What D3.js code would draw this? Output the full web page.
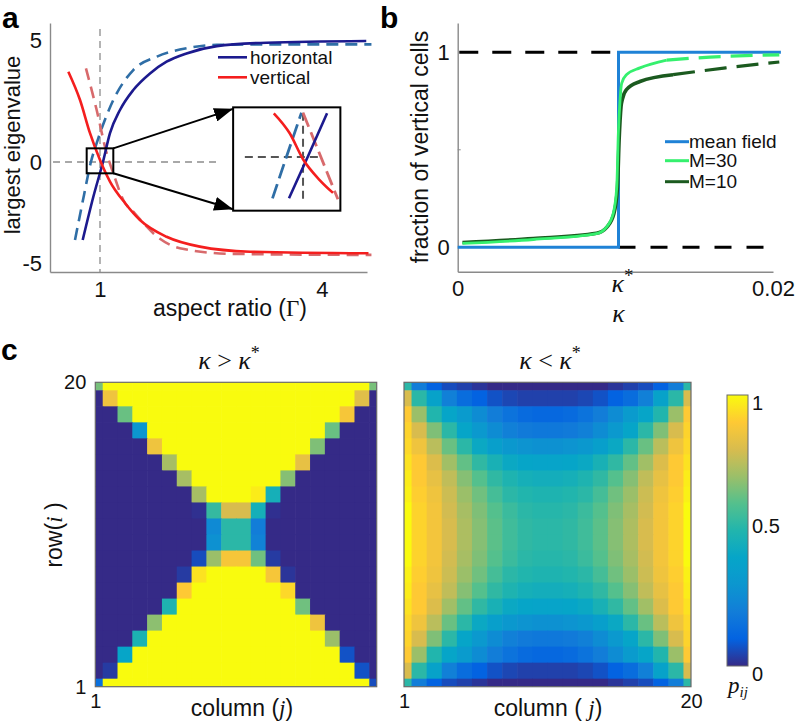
<!DOCTYPE html>
<html><head><meta charset="utf-8">
<script src="https://cdn.jsdelivr.net/npm/d3@7"></script>
<style>body{margin:0;background:#fff}svg{display:block}</style>
</head><body>
<svg id="c" width="800" height="725"></svg>
<script>
// ---------------- DATA ----------------
// Panel a: aspect ratio (Gamma) vs largest eigenvalue
const horizSolidG = [0.766,0.91,1.04,1.135,1.27,1.45,1.676,1.90,2.17,2.58,3.25,4.60];
const horizSolidL = [-3.86,-1.72,0,1.18,2.13,2.95,3.63,4.11,4.45,4.75,4.89,4.96];
const horizDashG  = [0.662,0.784,0.877,0.955,1.18,1.45,1.77,2.17,2.58,3.25,4.67];
const horizDashL  = [-3.86,-1.63,0,0.77,2.54,3.77,4.32,4.66,4.80,4.82,4.82];
const vertSolidG  = [0.572,0.73,0.865,1.0,1.135,1.34,1.54,1.90,2.35,3.03,4.63];
const vertSolidL  = [3.70,2.54,1.18,0.08,-0.97,-2.04,-2.87,-3.70,-4.19,-4.44,-4.52];
const vertDashG   = [0.81,0.955,1.09,1.18,1.315,1.47,1.81,2.08,2.80,4.67];
const vertDashL   = [3.84,2.13,0.36,-0.56,-1.88,-2.54,-3.8,-4.27,-4.55,-4.60];
// inset (zoom around Gamma = 1)
const inHorizDashG  = [0.789,0.885,0.989];        const inHorizDashL  = [-1.67,0,1.79];
const inHorizSolidG = [0.903,1.032,1.166];        const inHorizSolidL = [-1.67,0,1.77];
const inVertSolidG  = [0.798,0.908,1.0,1.115,1.207]; const inVertSolidL = [1.77,0.96,-0.09,-0.93,-1.45];
const inVertDashG   = [1.0,1.12,1.241];           const inVertDashL   = [1.79,0.05,-1.71];
const aXTicks = [1,4];
const aYTicks = [-5,0,5];
const aLegend = ["horizontal","vertical"];

// Panel b: kappa vs fraction of vertical cells
const kappaStar = 0.0102;
const mfK = [0, 0.0102, 0.0102, 0.0205];
const mfF = [0, 0, 1, 1];
const m30K = [0.0003,0.0048,0.0088,0.00945,0.00987,0.01009,0.01019,0.0103,0.0104,0.01072,0.01156,0.01326];
const m30F = [0.02,0.04,0.07,0.105,0.175,0.31,0.585,0.757,0.84,0.886,0.92,0.96];
const m30DashK = [0.01326,0.0160,0.0204];
const m30DashF = [0.96,0.975,0.987];
const m10K = [0.0003,0.0048,0.0088,0.00948,0.0099,0.01013,0.01024,0.01036,0.01045,0.01072,0.01156,0.01366];
const m10F = [0.025,0.045,0.072,0.105,0.17,0.3,0.55,0.72,0.76,0.81,0.85,0.885];
const m10DashK = [0.01366,0.0170,0.0204];
const m10DashF = [0.885,0.92,0.95];
const refOneK = [0.0001, 0.0102];
const refZeroK = [0.0102, 0.0196];
const bLegend = ["mean field","M=30","M=10"];

// Panel c: p_ij, rows listed from row 20 (top) to row 1 (bottom), columns 1..20
const leftRows = [
 [0.65,1,1,1,1,1,1,1,1,1,1,1,1,1,1,1,1,1,1,0.65],
 [0,0.86,1,1,1,1,1,1,1,1,1,1,1,1,1,1,1,1,0.82,0],
 [0,0,0.63,1,1,1,1,1,1,1,1,1,1,1,1,1,1,0.88,0,0],
 [0,0,0,0.3,1,1,1,1,1,1,1,1,1,1,1,1,0.63,0,0,0],
 [0,0,0,0,0.86,1,1,1,1,1,1,1,1,1,1,0.66,0,0,0,0],
 [0,0,0,0,0,0.72,1,1,1,1,1,1,1,1,0.84,0,0,0,0,0],
 [0,0,0,0,0,0,0.72,1,1,1,1,1,1,0.67,0,0,0,0,0,0],
 [0,0,0,0,0,0,0,0.72,1,1,1,0.97,0.46,0,0,0,0,0,0,0],
 [0,0,0,0,0,0,0,0.01,0.54,0.8,0.8,0.46,0.01,0,0,0,0,0,0,0],
 [0,0,0,0,0,0,0,0,0.25,0.52,0.52,0.2,0,0,0,0,0,0,0,0],
 [0,0,0,0,0,0,0,0,0.28,0.52,0.52,0.22,0,0,0,0,0,0,0,0],
 [0,0,0,0,0,0,0,0.06,0.7,0.88,0.88,0.64,0.03,0,0,0,0,0,0,0],
 [0,0,0,0,0,0,0.03,0.95,1,1,1,1,0.88,0.02,0,0,0,0,0,0],
 [0,0,0,0,0,0,0.9,1,1,1,1,1,1,0.93,0,0,0,0,0,0],
 [0,0,0,0,0,0.49,1,1,1,1,1,1,1,1,0.64,0,0,0,0,0],
 [0,0,0,0,0.68,1,1,1,1,1,1,1,1,1,1,0.86,0,0,0,0],
 [0,0,0,0.48,1,1,1,1,1,1,1,1,1,1,1,1,0.7,0,0,0],
 [0,0,0.4,1,1,1,1,1,1,1,1,1,1,1,1,1,1,0.07,0,0],
 [0,0.03,1,1,1,1,1,1,1,1,1,1,1,1,1,1,1,1,0.07,0],
 [0.15,1,1,1,1,1,1,1,1,1,1,1,1,1,1,1,1,1,1,0.06]
];
const rightRows = [
 [0.52,0.2,0.1,0.06,0.04,0.02,0,0,0,0,0,0,0,0,0.02,0.04,0.06,0.1,0.2,0.52],
 [0.8,0.52,0.38,0.21,0.14,0.1,0.07,0.05,0.04,0.04,0.04,0.04,0.05,0.07,0.1,0.14,0.21,0.38,0.52,0.8],
 [0.9,0.7,0.5,0.4,0.33,0.26,0.2,0.16,0.13,0.12,0.12,0.13,0.16,0.2,0.26,0.33,0.4,0.5,0.7,0.9],
 [0.92,0.8,0.66,0.52,0.4,0.32,0.26,0.21,0.19,0.18,0.18,0.19,0.21,0.26,0.32,0.4,0.52,0.66,0.8,0.92],
 [0.93,0.86,0.75,0.63,0.52,0.42,0.36,0.31,0.29,0.28,0.28,0.29,0.31,0.36,0.42,0.52,0.63,0.75,0.86,0.93],
 [0.95,0.9,0.81,0.71,0.62,0.53,0.47,0.42,0.4,0.39,0.39,0.4,0.42,0.47,0.53,0.62,0.71,0.81,0.9,0.95],
 [0.97,0.9,0.84,0.76,0.67,0.6,0.53,0.49,0.46,0.45,0.45,0.46,0.49,0.53,0.6,0.67,0.76,0.84,0.9,0.97],
 [0.98,0.91,0.86,0.78,0.7,0.64,0.57,0.52,0.5,0.49,0.49,0.5,0.52,0.57,0.64,0.7,0.78,0.86,0.91,0.98],
 [1,0.92,0.87,0.79,0.72,0.66,0.6,0.55,0.52,0.51,0.51,0.52,0.55,0.6,0.66,0.72,0.79,0.87,0.92,1],
 [1,0.92,0.87,0.8,0.73,0.67,0.61,0.56,0.53,0.52,0.52,0.53,0.56,0.61,0.67,0.73,0.8,0.87,0.92,1],
 [1,0.92,0.87,0.8,0.73,0.67,0.61,0.56,0.53,0.52,0.52,0.53,0.56,0.61,0.67,0.73,0.8,0.87,0.92,1],
 [1,0.92,0.87,0.79,0.72,0.66,0.6,0.55,0.52,0.51,0.51,0.52,0.55,0.6,0.66,0.72,0.79,0.87,0.92,1],
 [0.98,0.91,0.86,0.78,0.7,0.64,0.57,0.52,0.5,0.49,0.49,0.5,0.52,0.57,0.64,0.7,0.78,0.86,0.91,0.98],
 [0.97,0.9,0.84,0.76,0.67,0.6,0.53,0.49,0.46,0.45,0.45,0.46,0.49,0.53,0.6,0.67,0.76,0.84,0.9,0.97],
 [0.95,0.9,0.81,0.71,0.62,0.53,0.47,0.42,0.4,0.39,0.39,0.4,0.42,0.47,0.53,0.62,0.71,0.81,0.9,0.95],
 [0.93,0.86,0.75,0.63,0.52,0.42,0.36,0.31,0.29,0.28,0.28,0.29,0.31,0.36,0.42,0.52,0.63,0.75,0.86,0.93],
 [0.92,0.8,0.66,0.52,0.4,0.32,0.26,0.21,0.19,0.18,0.18,0.19,0.21,0.26,0.32,0.4,0.52,0.66,0.8,0.92],
 [0.9,0.7,0.5,0.4,0.33,0.26,0.2,0.16,0.13,0.12,0.12,0.13,0.16,0.2,0.26,0.33,0.4,0.5,0.7,0.9],
 [0.8,0.52,0.38,0.21,0.14,0.1,0.07,0.05,0.04,0.04,0.04,0.04,0.05,0.07,0.1,0.14,0.21,0.38,0.52,0.8],
 [0.52,0.2,0.1,0.06,0.04,0.02,0,0,0,0,0,0,0,0,0.02,0.04,0.06,0.1,0.2,0.52]
];
const heatTicks = [1,20];
const cbTicks = [0,0.5,1];

// ---------------- DRAWING ----------------
const SANS = "'Liberation Sans', Arial, Helvetica, sans-serif";
const SERIF = "'Liberation Serif', 'Times New Roman', serif";
const AXIS = "#8a8a8a";
const svg = d3.select('#c');
const defs = svg.append('defs');
const parula = d3.piecewise(d3.interpolateRgb,
  ['#352a87','#0363e1','#127dd8','#0c96cf','#06a5c8','#21b5ad','#54c08d','#9bbf69','#d8bc4e','#fec934','#f9fb0e']);
const zip = (a,b) => a.map((v,i)=>[v,b[i]]);

function styleAxis(g, size){
  g.attr('font-family', SANS).attr('font-size', size);
  g.select('.domain').attr('stroke', AXIS).attr('stroke-width', 1.4);
  g.selectAll('text').attr('fill','#111');
}

// ===== Panel a =====
const xA = d3.scaleLinear().domain([0.324, 4.61]).range([50, 367]);
const yA = d3.scaleLinear().domain([-5.45, -5, 0, 5, 5.7]).range([272, 263, 162, 40, 23]);
const pa = svg.append('g');
pa.append('g').attr('transform','translate(0,272)')
  .call(d3.axisBottom(xA).tickValues(aXTicks).tickSize(0).tickPadding(9).tickFormat(d=>String(d)))
  .call(g=>styleAxis(g,22));
pa.append('g').attr('transform','translate(50,0)')
  .call(d3.axisLeft(yA).tickValues(aYTicks).tickSize(0).tickPadding(8).tickFormat(d=>String(d)))
  .call(g=>styleAxis(g,22));

// reference dashed lines
pa.append('line').attr('x1',xA(1)).attr('x2',xA(1)).attr('y1',yA(5.45)).attr('y2',yA(-5.45))
  .attr('stroke','#8c8c8c').attr('stroke-width',1.3).attr('stroke-dasharray','7,5');
pa.append('line').attr('x1',xA(0.365)).attr('x2',xA(2.62)).attr('y1',yA(0)).attr('y2',yA(0))
  .attr('stroke','#8c8c8c').attr('stroke-width',1.3).attr('stroke-dasharray','7,5');

const lineA = d3.line().x(d=>xA(d[0])).y(d=>yA(d[1])).curve(d3.curveMonotoneX);
const C_HS = '#1c1a8e', C_HD = '#2f6ea6', C_VS = '#f41e1e', C_VD = '#d86a6c';
pa.append('path').attr('d', lineA(zip(horizDashG,horizDashL))).attr('fill','none').attr('stroke',C_HD).attr('stroke-width',2.6).attr('stroke-dasharray','12,7');
pa.append('path').attr('d', lineA(zip(vertDashG,vertDashL))).attr('fill','none').attr('stroke',C_VD).attr('stroke-width',2.6).attr('stroke-dasharray','12,7');
pa.append('path').attr('d', lineA(zip(horizSolidG,horizSolidL))).attr('fill','none').attr('stroke',C_HS).attr('stroke-width',2.6);
pa.append('path').attr('d', lineA(zip(vertSolidG,vertSolidL))).attr('fill','none').attr('stroke',C_VS).attr('stroke-width',2.6);

// legend a
aLegend.forEach((t,i)=>{
  const y = 57.3 + i*20;
  pa.append('line').attr('x1',218).attr('x2',247).attr('y1',y).attr('y2',y)
    .attr('stroke', i===0?C_HS:C_VS).attr('stroke-width',2.6);
  pa.append('text').attr('x',250).attr('y',y+6.5).attr('font-family',SANS).attr('font-size',19).attr('fill','#111').text(t);
});

// zoom box, inset box, arrows
const zoomBox = {g0:0.82, g1:1.18, l0:-0.56, l1:0.56};
const insetBox = {g0:2.80, g1:4.25, l0:-2.41, l1:2.24};
defs.append('marker').attr('id','arr').attr('viewBox','0 0 10 10').attr('refX',10).attr('refY',5)
  .attr('markerWidth',19).attr('markerHeight',14).attr('markerUnits','userSpaceOnUse')
  .attr('orient','auto').attr('preserveAspectRatio','none')
  .append('path').attr('d','M0,0 L10,5 L0,10 Z').attr('fill','#000');
pa.append('line').attr('x1',xA(zoomBox.g1)).attr('y1',yA(zoomBox.l1)).attr('x2',xA(insetBox.g0)).attr('y2',yA(insetBox.l1)+1.5)
  .attr('stroke','#000').attr('stroke-width',2).attr('marker-end','url(#arr)');
pa.append('line').attr('x1',xA(zoomBox.g1)).attr('y1',yA(zoomBox.l0)).attr('x2',xA(insetBox.g0)).attr('y2',yA(insetBox.l0)-1.5)
  .attr('stroke','#000').attr('stroke-width',2).attr('marker-end','url(#arr)');
pa.append('rect').attr('x',xA(zoomBox.g0)).attr('y',yA(zoomBox.l1))
  .attr('width',xA(zoomBox.g1)-xA(zoomBox.g0)).attr('height',yA(zoomBox.l0)-yA(zoomBox.l1))
  .attr('fill','none').attr('stroke','#000').attr('stroke-width',2);
const ibx0 = xA(insetBox.g0), ibx1 = xA(insetBox.g1), iby0 = yA(insetBox.l1), iby1 = yA(insetBox.l0);
pa.append('rect').attr('x',ibx0).attr('y',iby0).attr('width',ibx1-ibx0).attr('height',iby1-iby0)
  .attr('fill','#fff').attr('stroke','#000').attr('stroke-width',2);
const xI = d3.scaleLinear().domain([0.517,1.258]).range([ibx0, ibx1]);
const yI = d3.scaleLinear().domain([-2.17,2.01]).range([iby1, iby0]);
pa.append('line').attr('x1',xI(0.598)).attr('x2',xI(1.127)).attr('y1',yI(0)).attr('y2',yI(0))
  .attr('stroke','#555').attr('stroke-width',2).attr('stroke-dasharray','8,5');
pa.append('line').attr('x1',xI(1)).attr('x2',xI(1)).attr('y1',yI(1.79)).attr('y2',yI(-1.74))
  .attr('stroke','#555').attr('stroke-width',2).attr('stroke-dasharray','8,5');
const lineI = d3.line().x(d=>xI(d[0])).y(d=>yI(d[1])).curve(d3.curveMonotoneX);
pa.append('path').attr('d',lineI(zip(inHorizDashG,inHorizDashL))).attr('fill','none').attr('stroke',C_HD).attr('stroke-width',2.8).attr('stroke-dasharray','15,6');
pa.append('path').attr('d',lineI(zip(inVertDashG,inVertDashL))).attr('fill','none').attr('stroke',C_VD).attr('stroke-width',2.8).attr('stroke-dasharray','15,6');
pa.append('path').attr('d',lineI(zip(inHorizSolidG,inHorizSolidL))).attr('fill','none').attr('stroke',C_HS).attr('stroke-width',2.6);
pa.append('path').attr('d',lineI(zip(inVertSolidG,inVertSolidL))).attr('fill','none').attr('stroke',C_VS).attr('stroke-width',2.6);

// labels a
pa.append('text').attr('transform','translate(20,145) rotate(-90)').attr('text-anchor','middle')
  .attr('font-family',SANS).attr('font-size',22).attr('fill','#111').text('largest eigenvalue');
const xlabA = pa.append('text').attr('x',230).attr('y',316).attr('text-anchor','middle')
  .attr('font-family',SANS).attr('font-size',23).attr('fill','#111');
xlabA.append('tspan').text('aspect ratio (');
xlabA.append('tspan').attr('font-family',SERIF).text('Γ');
xlabA.append('tspan').text(')');
svg.append('text').attr('x',2).attr('y',28).attr('font-family',SANS).attr('font-weight','bold').attr('font-size',30).text('a');

// ===== Panel b =====
const xB = d3.scaleLinear().domain([0,0.02]).range([457.7,773]);
const yB = d3.scaleLinear().domain([-0.125,1.15]).range([271.7,23]);
const pb = svg.append('g');
pb.append('g').attr('transform','translate(0,271.7)')
  .call(d3.axisBottom(xB).tickValues([0,0.02]).tickSize(0).tickPadding(9).tickFormat(d=>d===0?'0':'0.02'))
  .call(g=>styleAxis(g,22));
pb.append('g').attr('transform','translate(457.7,0)')
  .call(d3.axisLeft(yB).tickValues([0,1]).tickSize(0).tickPadding(8).tickFormat(d=>String(d)))
  .call(g=>styleAxis(g,22));
pb.append('line').attr('x1',xB(0)).attr('x2',xB(0)+3).attr('y1',yB(0.5)).attr('y2',yB(0.5)).attr('stroke',AXIS).attr('stroke-width',1);

const lineB = d3.line().x(d=>xB(d[0])).y(d=>yB(d[1]));
const lineBs = d3.line().x(d=>xB(d[0])).y(d=>yB(d[1])).curve(d3.curveMonotoneX);
pb.append('path').attr('d',lineB(refOneK.map(k=>[k,1]))).attr('fill','none').attr('stroke','#000').attr('stroke-width',3).attr('stroke-dasharray','19,14');
pb.append('path').attr('d',lineB(refZeroK.map(k=>[k,0]))).attr('fill','none').attr('stroke','#000').attr('stroke-width',3).attr('stroke-dasharray','17,15');
const C_MF = '#1f82d6', C_M30 = '#35f06e', C_M10 = '#1b5a1f';
pb.append('path').attr('d',lineB(zip(mfK,mfF))).attr('fill','none').attr('stroke',C_MF).attr('stroke-width',3);
pb.append('path').attr('d',lineBs(zip(m10K,m10F))).attr('fill','none').attr('stroke',C_M10).attr('stroke-width',3.6);
pb.append('path').attr('d',lineBs(zip(m10DashK,m10DashF))).attr('fill','none').attr('stroke',C_M10).attr('stroke-width',3.2).attr('stroke-dasharray','22,10');
pb.append('path').attr('d',lineBs(zip(m30K,m30F))).attr('fill','none').attr('stroke',C_M30).attr('stroke-width',2.8);
pb.append('path').attr('d',lineBs(zip(m30DashK,m30DashF))).attr('fill','none').attr('stroke',C_M30).attr('stroke-width',3.2).attr('stroke-dasharray','22,10');

// legend b
[C_MF, C_M30, C_M10].forEach((c,i)=>{
  const y = [141.7,160.7,181.7][i];
  pb.append('line').attr('x1',665).attr('x2',689).attr('y1',y).attr('y2',y).attr('stroke',c).attr('stroke-width',3);
  pb.append('text').attr('x',689).attr('y',y+6.5).attr('font-family',SANS).attr('font-size',19).attr('fill','#111').text(bLegend[i]);
});
// kappa labels
const ks = pb.append('text').attr('x',xB(kappaStar)-7).attr('y',292).attr('font-family',SERIF).attr('font-size',26).attr('fill','#111');
ks.append('tspan').attr('font-style','italic').text('κ');
ks.append('tspan').attr('dy',-10).attr('font-size',19).text('*');
pb.append('text').attr('x',xB(kappaStar)).attr('y',322).attr('text-anchor','middle').attr('font-family',SERIF)
  .attr('font-style','italic').attr('font-size',26).attr('fill','#111').text('κ');
pb.append('text').attr('transform','translate(428,147) rotate(-90)').attr('text-anchor','middle')
  .attr('font-family',SANS).attr('font-size',23).attr('fill','#111').text('fraction of vertical cells');
svg.append('text').attr('x',380).attr('y',28).attr('font-family',SANS).attr('font-weight','bold').attr('font-size',30).text('b');

// ===== Panel c =====
const yH = d3.scaleLinear().domain([1,20]).range([686.7,382.3]);
const xL = d3.scaleLinear().domain([1,20]).range([95.3,376.7]);
const xR = d3.scaleLinear().domain([1,20]).range([404,691]);
function drawHeat(rows, xs){
  const g = svg.append('g');
  rows.forEach((row,k)=>{
    const i = 20 - k;
    row.forEach((v,c)=>{
      const j = c + 1;
      const x0 = xs(Math.max(1,j-0.5)), x1 = xs(Math.min(20,j+0.5));
      const y0 = yH(Math.min(20,i+0.5)), y1 = yH(Math.max(1,i-0.5));
      g.append('rect').attr('x',x0).attr('y',y0)
        .attr('width',x1-x0+(j<20?0.6:0)).attr('height',y1-y0+(i>1?0.6:0))
        .attr('fill',parula(v));
    });
  });
  g.append('rect').attr('x',xs(1)).attr('y',yH(20)).attr('width',xs(20)-xs(1)).attr('height',yH(1)-yH(20))
    .attr('fill','none').attr('stroke','#6a6a6a').attr('stroke-width',1.2);
  return g;
}
drawHeat(leftRows, xL);
drawHeat(rightRows, xR);

const hl = svg.append('g').attr('transform','translate(95.3,0)')
  .call(d3.axisLeft(yH).tickValues(heatTicks).tickSize(0).tickPadding(9).tickFormat(d=>String(d)));
styleAxis(hl,20); hl.select('.domain').remove();
const hbL = svg.append('g').attr('transform','translate(0,686.7)')
  .call(d3.axisBottom(xL).tickValues([1]).tickSize(0).tickPadding(7).tickFormat(d=>String(d)));
styleAxis(hbL,20); hbL.select('.domain').remove();
const hbR = svg.append('g').attr('transform','translate(0,686.7)')
  .call(d3.axisBottom(xR).tickValues(heatTicks).tickSize(0).tickPadding(7).tickFormat(d=>String(d)));
styleAxis(hbR,20); hbR.select('.domain').remove();

function colLabel(x, spaced){
  const t = svg.append('text').attr('x',x).attr('y',716).attr('text-anchor','middle')
    .attr('font-family',SANS).attr('font-size',23).attr('fill','#111');
  t.append('tspan').text(spaced ? 'column ( ' : 'column (');
  t.append('tspan').attr('font-family',SERIF).attr('font-style','italic').text('j');
  t.append('tspan').text(')');
}
colLabel(242,false);
colLabel(548,true);
const rl = svg.append('text').attr('transform','translate(62,535) rotate(-90)').attr('text-anchor','middle')
  .attr('font-family',SANS).attr('font-size',23).attr('fill','#111');
rl.append('tspan').text('row(');
rl.append('tspan').attr('font-family',SERIF).attr('font-style','italic').text('i');
rl.append('tspan').text(' )');

function title(x, op){
  const t = svg.append('text').attr('x',x).attr('y',369).attr('text-anchor','middle')
    .attr('font-family',SERIF).attr('font-size',26).attr('fill','#111');
  t.append('tspan').attr('font-style','italic').text('κ');
  t.append('tspan').text(' ' + op + ' ');
  t.append('tspan').attr('font-style','italic').text('κ');
  t.append('tspan').attr('dy',-10).attr('font-size',18).text('*');
}
title(229,'>');
title(550,'<');
svg.append('text').attr('x',1).attr('y',360).attr('font-family',SANS).attr('font-weight','bold').attr('font-size',30).text('c');

// colorbar
const cbY = d3.scaleLinear().domain([0,1]).range([666,395]);
const grad = defs.append('linearGradient').attr('id','cbg').attr('x1',0).attr('y1',1).attr('x2',0).attr('y2',0);
d3.range(0,1.0001,0.05).forEach(t=>grad.append('stop').attr('offset',t).attr('stop-color',parula(t)));
svg.append('rect').attr('x',727).attr('y',cbY(1)).attr('width',21).attr('height',cbY(0)-cbY(1))
  .attr('fill','url(#cbg)').attr('stroke','#6a6a6a').attr('stroke-width',1);
cbTicks.forEach(v=>{
  svg.append('text').attr('x',752).attr('y',cbY(v)).attr('dy', v===1?'0.75em':(v===0?'0.75em':'0.1em'))
    .attr('font-family',SANS).attr('font-size',20).attr('fill','#111').text(String(v));
});
const pij = svg.append('text').attr('x',728).attr('y',693).attr('font-family',SERIF).attr('font-style','italic')
  .attr('font-size',23).attr('fill','#111');
pij.append('tspan').text('p');
pij.append('tspan').attr('dy',4).attr('font-size',15).text('ij');
</script>
</body></html>
